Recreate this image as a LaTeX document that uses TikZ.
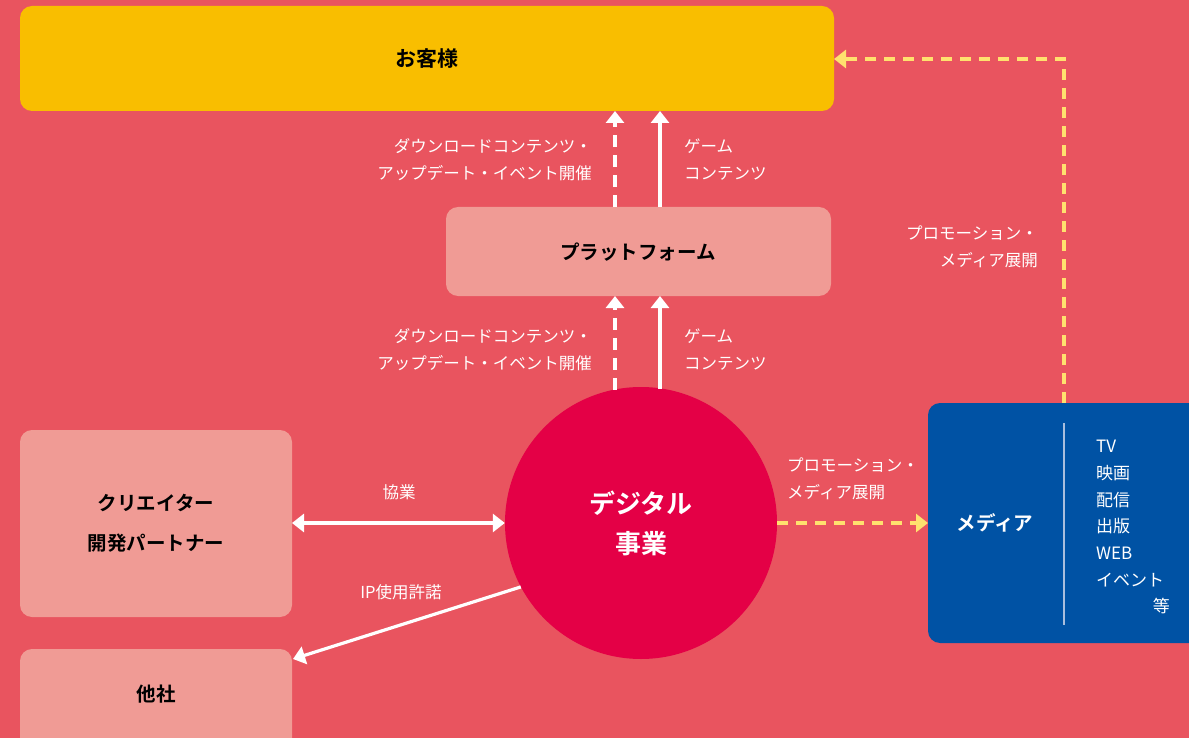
\documentclass[tikz,border=0pt]{standalone}
\usepackage{fontspec}
\newfontfamily\jp{Noto Sans CJK JP}
\newfontfamily\jpb{Noto Sans CJK JP Bold}
\usetikzlibrary{arrows.meta,calc}
\definecolor{bg}{HTML}{E9545F}
\definecolor{gold}{HTML}{F9BE00}
\definecolor{lpink}{HTML}{F09B95}
\definecolor{crim}{HTML}{E40046}
\definecolor{mblue}{HTML}{0052A4}
\definecolor{ylw}{HTML}{FFE16E}
\definecolor{vline}{HTML}{A9BEDD}
\tikzset{
  box/.style={fill=#1, rounded corners=12pt, inner sep=0pt},
  btitle/.style={font=\jpb\fontsize{19.5}{40}\selectfont, text=black, align=center},
  lbl/.style={font=\jp\fontsize{16.5}{27}\selectfont, text=white, inner sep=0pt},
  warr/.style={draw=white, line width=3.2pt, -{Triangle[width=18pt,length=12pt]}},
  wdash/.style={warr, dash pattern=on 12pt off 8pt},
  yarr/.style={draw=ylw, line width=3.2pt, dash pattern=on 11pt off 8pt, -{Triangle[width=18pt,length=12pt]}},
}
\begin{document}
\begin{tikzpicture}[x=1pt,y=-1pt]
\useasboundingbox (0,0) rectangle (1189,738);
\clip (0,0) rectangle (1189,738);
\fill[bg] (0,0) rectangle (1189,738);
% boxes
\fill[box=gold] (20,6) rectangle (834,111);
\node[btitle, font=\jpb\fontsize{21}{40}\selectfont] (cust) at (427,59) {お客様};
\coordinate (custR) at (834,59);
\fill[box=lpink] (446,207) rectangle (831,296);
\node[btitle] (plat) at (638,252) {プラットフォーム};
\coordinate (platS) at (638,296);
\coordinate (platN) at (638,207);
\coordinate (custS) at (638,111);
\fill[box=lpink] (20,430) rectangle (292,617);
\node[btitle] (crea) at (156,523) {クリエイター\\開発パートナー};
\coordinate (creaE) at (292,523);
\fill[box=lpink] (20,649) rectangle (292,760);
\node[btitle] (other) at (156,694) {他社};
\coordinate (otherC) at (293,659);
\fill[box=mblue] (928,403) rectangle (1210,643);
\node[font=\jpb\fontsize{19.5}{40}\selectfont, text=white] (media) at (995,523) {メディア};
\coordinate (mediaW) at (928,523);
\coordinate (mediaT) at (1064,403);
\draw[vline, line width=1.5pt] (1064,423) -- (1064,625);
\node[lbl, anchor=north west, align=left, font=\jp\fontsize{17}{26.7}\selectfont] (mlist) at (1096,440) {TV\\映画\\配信\\出版\\WEB\\イベント};
\node[lbl, anchor=east, font=\jp\fontsize{17}{26.7}\selectfont] (etc) at (1170,606) {等};
% circle
\node[circle, fill=crim, minimum size=272pt, inner sep=0pt, text=white, align=center, font=\jpb\fontsize{26}{40}\selectfont] (dig) at (641,523) {デジタル\\事業};
% vertical arrows
\coordinate (xa) at (615,0);
\coordinate (xb) at (660,0);
\draw[wdash] (dig.north -| xa) ++(0,3) -- (platS -| xa);
\draw[warr] (dig.north -| xb) ++(0,2) -- (platS -| xb);
\draw[wdash] (platN -| xa) -- (custS -| xa);
\draw[warr] (platN -| xb) -- (custS -| xb);
\node[lbl, anchor=east, align=right] (l1) at (592,160) {ダウンロードコンテンツ・\\アップデート・イベント開催};
\node[lbl, anchor=west, align=left] (l2) at (684,160) {ゲーム\\コンテンツ};
\node[lbl, anchor=east, align=right] (l3) at (592,350) {ダウンロードコンテンツ・\\アップデート・イベント開催};
\node[lbl, anchor=west, align=left] (l4) at (684,350) {ゲーム\\コンテンツ};
% collaboration
\draw[warr, {Triangle[width=18pt,length=12pt]}-{Triangle[width=18pt,length=12pt]}] (creaE) -- (dig.west);
\node[lbl] (l5) at (399,492) {協業};
\draw[warr] (dig.208) -- (otherC);
\node[lbl] (l6) at (401,592) {IP使用許諾};
% promotion
\draw[yarr] (dig.east) -- (mediaW);
\node[lbl, anchor=west, align=left] (l7) at (787,479) {プロモーション・\\メディア展開};
\draw[yarr] (mediaT) |- (custR);
\node[lbl, anchor=east, align=right] (l8) at (1038,247) {プロモーション・\\メディア展開};
\end{tikzpicture}
\end{document}
